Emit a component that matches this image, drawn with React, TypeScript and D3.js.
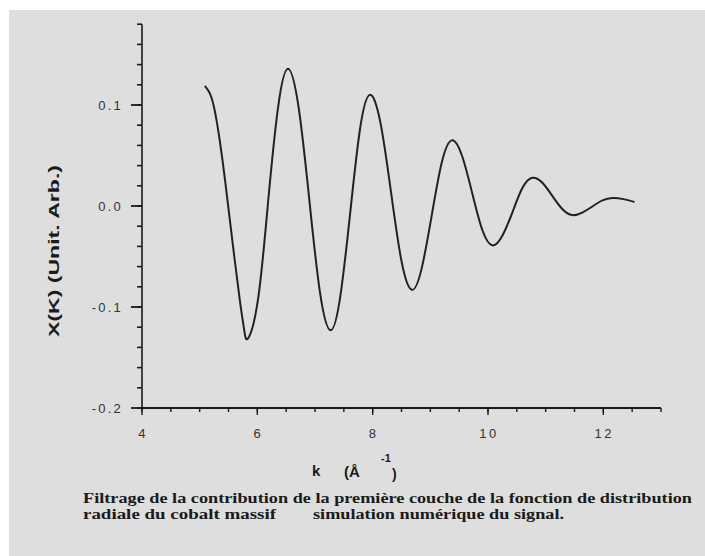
import React from "react";
import * as d3 from "d3";

const kValues = [
  5.09, 5.18, 5.27, 5.38, 5.49, 5.6, 5.7, 5.77, 5.84,
  6.013, 6.185, 6.358, 6.53,
  6.715, 6.9, 7.085, 7.27,
  7.44, 7.61, 7.78, 7.95,
  8.133, 8.315, 8.498, 8.68,
  8.853, 9.025, 9.198, 9.37,
  9.548, 9.725, 9.903, 10.08,
  10.253, 10.425, 10.598, 10.77,
  10.943, 11.115, 11.288, 11.46,
  11.635, 11.81, 11.985, 12.16,
  12.35, 12.54,
];
const chiValues = [
  0.119, 0.111, 0.092, 0.052, 0.002, -0.05, -0.095, -0.122, -0.131,
  -0.092, 0.003, 0.097, 0.136,
  0.098, 0.007, -0.085, -0.123,
  -0.089, -0.007, 0.076, 0.11,
  0.083, 0.015, -0.054, -0.083,
  -0.061, -0.009, 0.043, 0.065,
  0.05, 0.013, -0.024, -0.039,
  -0.029, -0.006, 0.018, 0.028,
  0.023, 0.01, -0.003, -0.009,
  -0.0065, -0.0005, 0.0055, 0.008,
  0.0068, 0.004,
];

const xMajorTicks = [4, 6, 8, 10, 12];
const yMajorTicks = [-0.2, -0.1, 0.0, 0.1];
const yTickLabels = ["-0.2", "-0.1", "0.0", "0.1"];

const xTitle = "k";
const yTitle = "X(K)  (Unit. Arb.)";
const captionLine1 =
  "Filtrage de la contribution de la première couche de la fonction de distribution";
const captionLine2a = "radiale du cobalt massif";
const captionLine2b = "simulation numérique du signal.";

export default function App() {
  const W = 705;
  const H = 556;
  const x = d3.scaleLinear().domain([4, 13]).range([142, 661]);
  const y = d3.scaleLinear().domain([-0.2, 0.18]).range([408, 24.2]);

  const data = kValues.map((k, i) => [k, chiValues[i]] as [number, number]);
  const line = d3
    .line<[number, number]>()
    .x((d) => x(d[0]))
    .y((d) => y(d[1]))
    .curve(d3.curveNatural);

  const xMinor = d3.range(4, 13.001, 0.5);
  const yMinor = d3.range(-0.2, 0.1801, 0.02);

  const sans = { fontFamily: "'Liberation Sans', Arimo, Arial, Helvetica, sans-serif" };
  const serif = { fontFamily: "'Liberation Serif', Tinos, 'Times New Roman', Times, serif" };
  const ink = "#1a1a1a";

  return (
    <svg
      width={W}
      height={H}
      style={{ position: "absolute", left: 0, top: 0, background: "#ffffff" }}
    >
      <rect x={9} y={10} width={W - 9} height={H - 10} fill="#dedede" />

      {/* y axis */}
      <line x1={x(4)} x2={x(4)} y1={y(0.18)} y2={y(-0.2)} stroke={ink} strokeWidth={1.6} />
      {yMinor.map((v, i) => (
        <line key={"ym" + i} x1={x(4) - 5} x2={x(4)} y1={y(v)} y2={y(v)} stroke={ink} strokeWidth={1.6} />
      ))}
      {yMajorTicks.map((v, i) => (
        <g key={"yM" + i}>
          <line x1={x(4) - 11} x2={x(4)} y1={y(v)} y2={y(v)} stroke={ink} strokeWidth={1.8} />
          <text
            x={x(4) - 19}
            y={y(v)}
            dy="0.36em"
            textAnchor="end"
            style={sans}
            fontSize={13}
            fill="#333"
            letterSpacing={2.2}
          >
            {yTickLabels[i]}
          </text>
        </g>
      ))}

      {/* x axis */}
      <line x1={x(4)} x2={x(13)} y1={y(-0.2)} y2={y(-0.2)} stroke={ink} strokeWidth={2.2} />
      {xMinor.map((v, i) => (
        <line key={"xm" + i} x1={x(v)} x2={x(v)} y1={y(-0.2)} y2={y(-0.2) + 4} stroke={ink} strokeWidth={1.4} />
      ))}
      {xMajorTicks.map((v, i) => (
        <g key={"xM" + i}>
          <line x1={x(v)} x2={x(v)} y1={y(-0.2)} y2={y(-0.2) + 7} stroke={ink} strokeWidth={1.4} />
          <text
            x={x(v) + 1}
            y={433}
            dy="0.36em"
            textAnchor="middle"
            style={sans}
            fontSize={13}
            fill="#333"
            letterSpacing={2.5}
          >
            {v}
          </text>
        </g>
      ))}

      {/* curve */}
      <path d={line(data) || ""} fill="none" stroke="#222" strokeWidth={2} strokeLinejoin="round" />

      {/* x title */}
      <text x={312} y={476} style={sans} fontSize={15} fontWeight="bold" fill={ink}>
        {xTitle}
      </text>
      <text x={344} y={477} style={sans} fontSize={15} fontWeight="bold" fill={ink}>
        (Å
      </text>
      <text x={381} y={462} style={sans} fontSize={11} fontWeight="bold" fill={ink}>
        -1
      </text>
      <text x={392} y={479} style={sans} fontSize={14} fontWeight="bold" fill={ink}>
        )
      </text>

      {/* y title */}
      <text
        transform="translate(59,251) rotate(-90)"
        textAnchor="middle"
        style={sans}
        fontSize={14}
        fontWeight="bold"
        fill={ink}
        textLength={172}
        lengthAdjust="spacingAndGlyphs"
      >
        {yTitle}
      </text>

      {/* caption */}
      <text
        x={83}
        y={503}
        style={serif}
        fontSize={14}
        fontWeight="bold"
        fill={ink}
        textLength={609}
        lengthAdjust="spacingAndGlyphs"
      >
        {captionLine1}
      </text>
      <text
        x={83}
        y={519}
        style={serif}
        fontSize={14}
        fontWeight="bold"
        fill={ink}
        textLength={193}
        lengthAdjust="spacingAndGlyphs"
      >
        {captionLine2a}
      </text>
      <text
        x={313}
        y={519}
        style={serif}
        fontSize={14}
        fontWeight="bold"
        fill={ink}
        textLength={251}
        lengthAdjust="spacingAndGlyphs"
      >
        {captionLine2b}
      </text>
    </svg>
  );
}
